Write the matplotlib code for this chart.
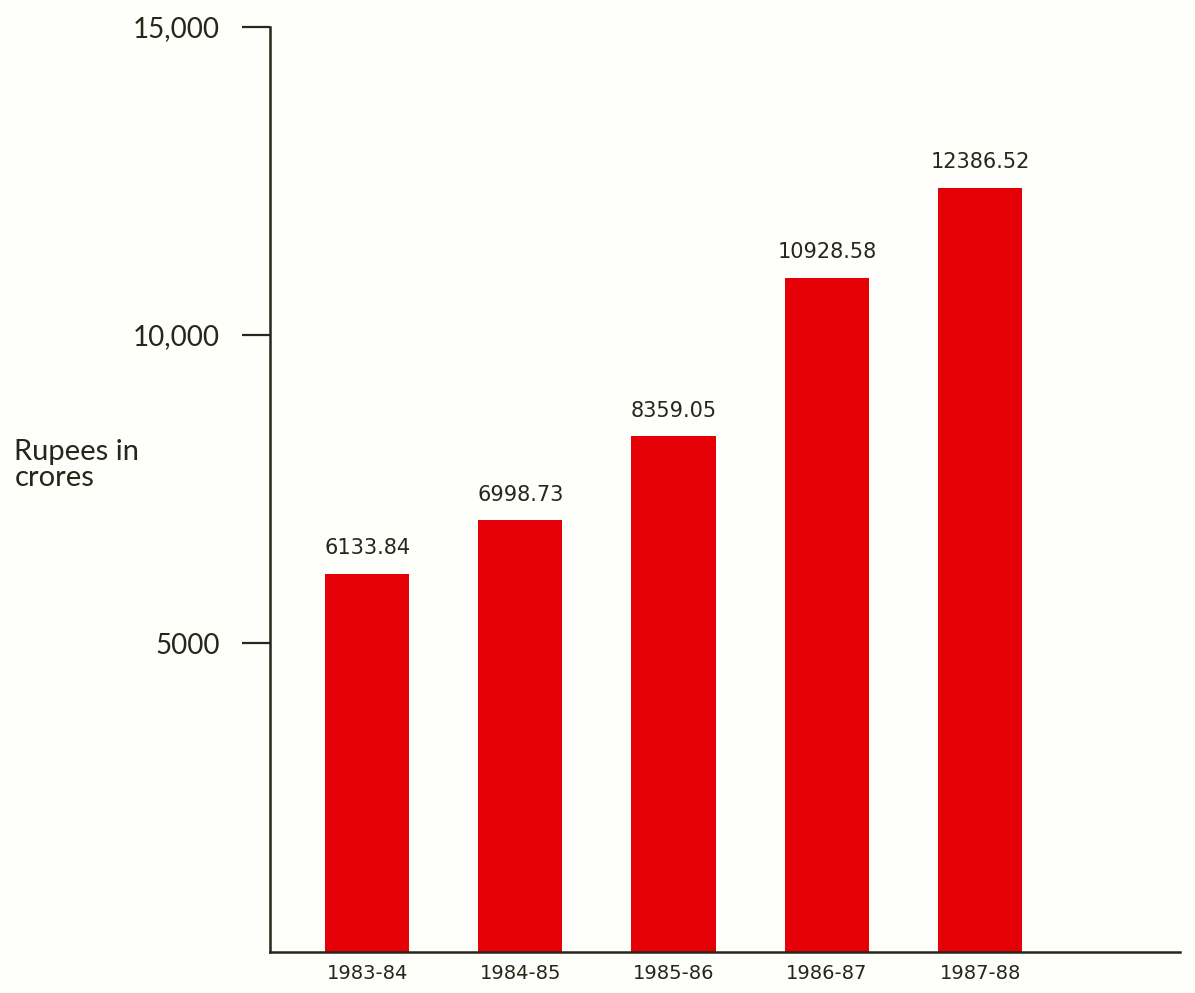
import matplotlib
matplotlib.use("Agg")
import matplotlib.pyplot as plt

years = ["1983-84", "1984-85", "1985-86", "1986-87", "1987-88"]
values = [6133.84, 6998.73, 8359.05, 10928.58, 12386.52]
value_labels = ["6133.84", "6998.73", "8359.05", "10928.58", "12386.52"]
ytick_vals = [5000, 10000, 15000]
ytick_labels = ["5000", "10,000", "15,000"]

ink = "#26261a"
red = "#e50008"
bg = "#fefefa"

fig = plt.figure(figsize=(11.95, 9.93), dpi=100, facecolor=bg)
ax = fig.add_axes([0.226, 0.0413, 0.7615, 0.932])
ax.set_facecolor(bg)

x = list(range(len(years)))
ax.bar(x, values, width=0.55, color=red, zorder=2)

for xi, v, lab in zip(x, values, value_labels):
    ax.text(xi, v + 250, lab, ha="center", va="bottom", fontsize=15,
            color=ink, family=["Liberation Sans Narrow", "DejaVu Sans"])

ax.set_xlim(-0.633, 5.305)
ax.set_ylim(0, 15000)

ax.set_xticks(x)
ax.set_xticklabels(years, fontsize=14, color=ink,
                   family=["Liberation Sans Narrow", "DejaVu Sans"])
ax.tick_params(axis="x", length=0, pad=9)

ax.set_yticks(ytick_vals)
ax.set_yticklabels(ytick_labels, fontsize=20, color=ink, family=["Lato", "DejaVu Sans"])
ax.tick_params(axis="y", direction="out", length=20, width=1.6, color=ink, pad=16)

for s in ["top", "right"]:
    ax.spines[s].set_visible(False)
for s in ["left", "bottom"]:
    ax.spines[s].set_color(ink)
    ax.spines[s].set_linewidth(1.8)

fig.text(0.012, 1 - 465 / 993, "Rupees in\ncrores", ha="left", va="center",
         fontsize=21, color=ink, family=["Lato", "DejaVu Sans"], linespacing=1.0)

fig.savefig("out.png", dpi=100, facecolor=bg)
